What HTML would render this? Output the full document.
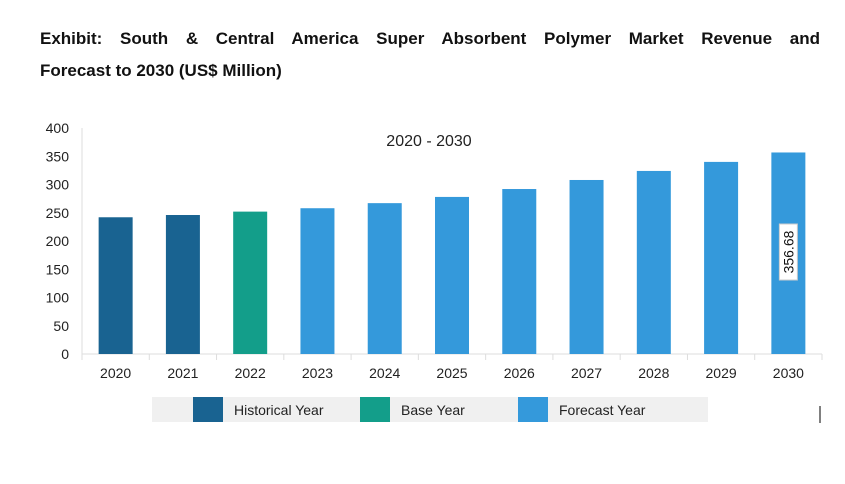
<!DOCTYPE html>
<html><head><meta charset="utf-8"><style>
body{margin:0;width:845px;height:484px;background:#fff;font-family:"Liberation Sans",sans-serif;overflow:hidden;position:relative}
.tl{position:absolute;left:40px;width:780px;font-weight:bold;font-size:17px;line-height:20px;color:#111;letter-spacing:0px;white-space:nowrap}
#t1{top:29px;text-align:justify;text-align-last:justify}
#t2{top:61px}
</style></head><body>
<div>
<div id="t1" class="tl">Exhibit: South &amp; Central America Super Absorbent Polymer Market Revenue and</div>
<div id="t2" class="tl">Forecast to 2030 (US$ Million)</div>
</div>
<svg id="chart" width="845" height="484" style="position:absolute;left:0;top:0"></svg>
<script>
const categories=["2020","2021","2022","2023","2024","2025","2026","2027","2028","2029","2030"];
const values=[242,246,252,258,267,278,292,308,324,340,356.68];
const types=["h","h","b","f","f","f","f","f","f","f","f"];
const yTicks=[0,50,100,150,200,250,300,350,400];
const legendLabels=["Historical Year","Base Year","Forecast Year"];
const colors={h:"#196391",b:"#139e8a",f:"#3499db"};
const NS="http://www.w3.org/2000/svg";
const svg=document.getElementById('chart');
const x0=82,x1=822,y0=354,yTop=128,yMax=400;
const bw=(x1-x0)/categories.length;
const ys=v=>y0-(v/yMax)*(y0-yTop);
const xs=i=>x0+bw*i+bw/2;
function mk(t,a,p){const e=document.createElementNS(NS,t);for(const k in a)e.setAttribute(k,a[k]);(p||svg).appendChild(e);return e;}
let ax=mk('line',{x1:x0,y1:yTop,x2:x0,y2:y0,stroke:'#ddd'});


let bx=mk('line',{x1:x0,y1:y0,x2:x1,y2:y0,stroke:'#ddd'});


yTicks.forEach(v=>{const t=mk('text',{x:x0-13,y:ys(v)+5,'text-anchor':'end','font-size':'14',fill:'#222'});t.textContent=v;

});
for(let i=0;i<=categories.length;i++){mk('line',{x1:x0+bw*i,y1:y0,x2:x0+bw*i,y2:y0+6,stroke:'#ddd'});}
categories.forEach((c,i)=>{
 const r=mk('rect',{x:xs(i)-17,y:ys(values[i]),width:34,height:y0-ys(values[i]),fill:colors[types[i]]});
 
 
 const t=mk('text',{x:xs(i),y:y0+24,'text-anchor':'middle','font-size':'14',fill:'#222'});t.textContent=c;
 
 
});
const li=categories.length-1,lx=xs(li),ly=252;
const lb=mk('rect',{x:lx-9,y:ly-28,width:18,height:56,fill:'#fff',stroke:'#ccc'});


const lt=mk('text',{x:lx+5,y:ly,'text-anchor':'middle','font-size':'14',fill:'#111',transform:`rotate(-90 ${lx+5} ${ly})`});
lt.textContent=values[li];


const st=mk('text',{x:429,y:146,'text-anchor':'middle','font-size':'16',fill:'#222'});st.textContent="2020 - 2030";


const lg=mk('rect',{x:152,y:397,width:556,height:25,fill:'#f0f0f0'});


const lxs=[193,360,518],lc=["h","b","f"];
legendLabels.forEach((l,i)=>{
 const s=mk('rect',{x:lxs[i],y:397,width:30,height:25,fill:colors[lc[i]]});
 
 
 const t=mk('text',{x:lxs[i]+41,y:415,'font-size':'14',fill:'#222'});t.textContent=l;
 
 
});
mk('line',{x1:820,y1:406,x2:820,y2:423,stroke:'#000'});
</script>
</body></html>
